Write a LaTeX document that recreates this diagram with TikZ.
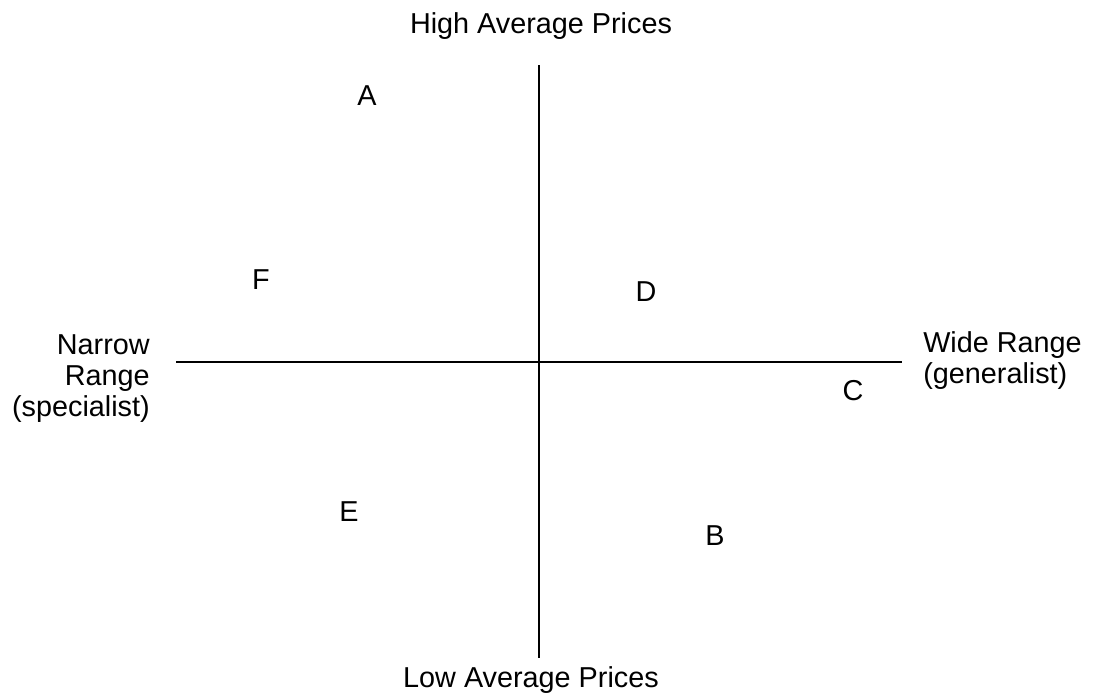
\documentclass[tikz,border=0pt]{standalone}
\usepackage{fontspec}
\setmainfont{Liberation Sans}
\usetikzlibrary{positioning}

\begin{document}
\begin{tikzpicture}[x=0.75pt,y=-0.75pt,font=\fontsize{21.6}{23.25}\selectfont,
    axisline/.style={line width=1.5pt,black},
    brand/.style={inner sep=0pt,anchor=base},
    axislabel/.style={inner sep=0pt}]
    \useasboundingbox (0,0) rectangle (1093,696);
    % axes
    \coordinate (top) at (539,65);
    \coordinate (bottom) at (539,658);
    \coordinate (left) at (176,362);
    \coordinate (right) at (902,362);
    \draw[axisline] (top) -- (bottom);
    \draw[axisline] (left) -- (right);
    % axis labels
    \node[axislabel,anchor=base] (high) at (541,33) {High Average Prices};
    \node[axislabel,anchor=base] (low) at (531,687) {Low Average Prices};
    \node[axislabel,anchor=base east,align=right] (narrow) at (150,416) {Narrow\\Range\\(specialist)};
    \node[axislabel,anchor=base west,align=left] (wide) at (923,383) {Wide Range\\(generalist)};
    % brands
    \node[brand] (A) at (367,105) {A};
    \node[brand] (F) at (261,289) {F};
    \node[brand] (D) at (646,301) {D};
    \node[brand] (C) at (853,400) {C};
    \node[brand] (E) at (349,521) {E};
    \node[brand] (B) at (715,545) {B};
\end{tikzpicture}
\end{document}
